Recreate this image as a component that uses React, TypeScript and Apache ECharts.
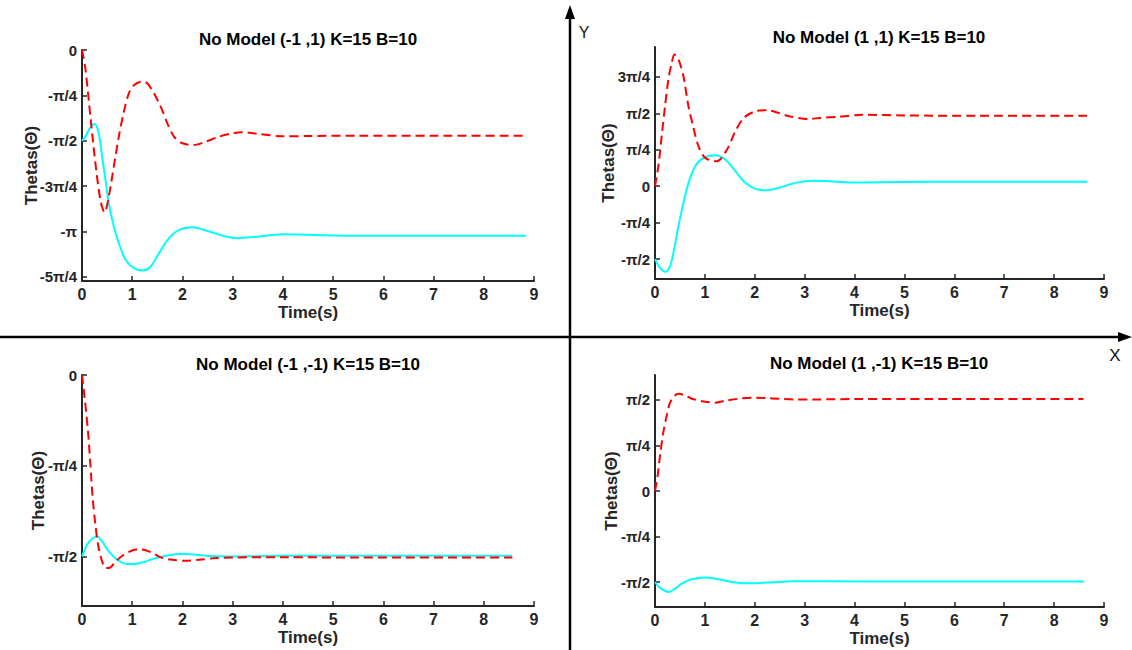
import React, { useEffect, useRef } from "react";
import * as echarts from "echarts";

// ---------- data ----------
const xTickValues = [0, 1, 2, 3, 4, 5, 6, 7, 8, 9];

const titles = [
  "No Model (-1 ,1) K=15 B=10",
  "No Model (1 ,1) K=15 B=10",
  "No Model (-1 ,-1) K=15 B=10",
  "No Model (1 ,-1) K=15 B=10",
];

// y tick positions as multiples of pi/4, and their labels
const tlYQuarters = [-5, -4, -3, -2, -1, 0];
const tlYLabels = ["-5π/4", "-π", "-3π/4", "-π/2", "-π/4", "0"];
const trYQuarters = [-2, -1, 0, 1, 2, 3];
const trYLabels = ["-π/2", "-π/4", "0", "π/4", "π/2", "3π/4"];
const blYQuarters = [-2, -1, 0];
const blYLabels = ["-π/2", "-π/4", "0"];
const brYQuarters = [-2, -1, 0, 1, 2];
const brYLabels = ["-π/2", "-π/4", "0", "π/4", "π/2"];

// [time (s), theta (rad)]
const tlRed: [number, number][] = [
  [0, 0], [0.067, -0.32], [0.167, -1.15], [0.267, -1.96], [0.367, -2.6], [0.45, -2.81],
  [0.533, -2.54], [0.633, -2.02], [0.733, -1.5], [0.833, -1.07], [0.933, -0.75], [1.033, -0.61],
  [1.2, -0.548], [1.3, -0.577], [1.433, -0.75], [1.567, -0.98], [1.7, -1.27], [1.833, -1.5],
  [2.0, -1.615], [2.233, -1.644], [2.467, -1.586], [2.733, -1.5], [3.0, -1.442], [3.2, -1.425],
  [3.5, -1.45], [4.0, -1.494], [4.5, -1.49], [5.5, -1.483], [7.0, -1.483], [8.84, -1.483],
];
const tlCyan: [number, number][] = [
  [0, -1.571], [0.067, -1.5], [0.167, -1.338], [0.253, -1.28], [0.333, -1.442], [0.4, -1.845],
  [0.467, -2.249], [0.533, -2.653], [0.633, -3.057], [0.733, -3.345], [0.867, -3.633], [1.033, -3.777],
  [1.22, -3.818], [1.367, -3.749], [1.533, -3.518], [1.733, -3.258], [1.933, -3.114], [2.2, -3.068],
  [2.533, -3.143], [2.867, -3.23], [3.1, -3.258], [3.4, -3.24], [4.0, -3.19], [4.5, -3.2],
  [5.5, -3.218], [7.0, -3.218], [8.84, -3.218],
];
const trRed: [number, number][] = [
  [0, 0], [0.067, 0.43], [0.134, 1.08], [0.201, 1.72], [0.268, 2.3], [0.336, 2.66], [0.389, 2.836],
  [0.47, 2.73], [0.57, 2.37], [0.671, 1.72], [0.772, 1.256], [0.872, 0.86], [1.007, 0.61],
  [1.242, 0.538], [1.443, 0.79], [1.611, 1.185], [1.779, 1.472], [2.013, 1.615], [2.248, 1.637],
  [2.483, 1.579], [2.685, 1.508], [3.087, 1.45], [3.3, 1.47], [3.7, 1.5], [4.16, 1.538],
  [5.0, 1.525], [6.5, 1.517], [8.66, 1.517],
];
const trCyan: [number, number][] = [
  [0, -1.571], [0.101, -1.759], [0.215, -1.845], [0.302, -1.723], [0.369, -1.436], [0.47, -0.861],
  [0.57, -0.359], [0.671, 0.072], [0.805, 0.431], [0.973, 0.61], [1.208, 0.668], [1.409, 0.574],
  [1.611, 0.323], [1.812, 0.072], [2.013, -0.057], [2.248, -0.086], [2.483, -0.036], [2.819, 0.072],
  [3.154, 0.115], [3.5, 0.105], [3.94, 0.079], [4.5, 0.085], [5.5, 0.094], [8.66, 0.094],
];
const blRed: [number, number][] = [
  [0, 0], [0.053, -0.2], [0.12, -0.49], [0.167, -0.778], [0.213, -1.066], [0.267, -1.297],
  [0.32, -1.47], [0.4, -1.614], [0.48, -1.672], [0.567, -1.666], [0.667, -1.614], [0.833, -1.556],
  [1.0, -1.519], [1.167, -1.51], [1.367, -1.533], [1.567, -1.579], [1.8, -1.6], [2.067, -1.608],
  [2.333, -1.6], [2.667, -1.585], [3.0, -1.58], [4.0, -1.578], [5.5, -1.58], [8.57, -1.58],
];
const blCyan: [number, number][] = [
  [0, -1.571], [0.1, -1.47], [0.2, -1.418], [0.3, -1.398], [0.4, -1.441], [0.533, -1.527],
  [0.7, -1.6], [0.867, -1.634], [1.033, -1.637], [1.2, -1.623], [1.4, -1.594], [1.6, -1.571],
  [1.8, -1.556], [2.0, -1.548], [2.267, -1.556], [2.533, -1.568], [2.867, -1.572], [3.3, -1.57],
  [4.0, -1.566], [5.5, -1.566], [8.56, -1.566],
];
const brRed: [number, number][] = [
  [0, 0], [0.054, 0.27], [0.101, 0.615], [0.168, 1.017], [0.235, 1.304], [0.302, 1.522],
  [0.389, 1.637], [0.47, 1.677], [0.604, 1.648], [0.738, 1.591], [0.973, 1.545], [1.208, 1.522],
  [1.409, 1.556], [1.678, 1.591], [1.946, 1.608], [2.215, 1.602], [2.483, 1.591], [2.819, 1.579],
  [3.154, 1.579], [4.0, 1.585], [5.5, 1.588], [8.59, 1.588],
];
const brCyan: [number, number][] = [
  [0, -1.568], [0.1, -1.671], [0.282, -1.74], [0.403, -1.683], [0.537, -1.597], [0.738, -1.522],
  [1.007, -1.493], [1.275, -1.522], [1.544, -1.568], [1.812, -1.591], [2.081, -1.585], [2.483, -1.568],
  [2.819, -1.556], [3.154, -1.556], [4.0, -1.56], [5.5, -1.56], [8.6, -1.56],
];

// ---------- layout / style ----------
const FONT = "'Liberation Sans', Arial, Helvetica, sans-serif";
const AXIS = "#262626";
const PI4 = Math.PI / 4;

const panels = [
  { grid: { left: 82, top: 50, width: 452, height: 231 }, yMin: -4, yMax: 0, q: tlYQuarters, l: tlYLabels, red: tlRed, cyan: tlCyan, yGap: 42, title: [308, 39] },
  { grid: { left: 655, top: 47, width: 449, height: 232 }, yMin: -2, yMax: 3, q: trYQuarters, l: trYLabels, red: trRed, cyan: trCyan, yGap: 38, title: [879, 37] },
  { grid: { left: 82, top: 375, width: 452, height: 231 }, yMin: -2, yMax: 0, q: blYQuarters, l: blYLabels, red: blRed, cyan: blCyan, yGap: 35, title: [308, 364] },
  { grid: { left: 655, top: 375, width: 449, height: 232 }, yMin: -2, yMax: 2, q: brYQuarters, l: brYLabels, red: brRed, cyan: brCyan, yGap: 35, title: [879, 363] },
];

function buildOption() {
  const grid = panels.map((p) => ({ ...p.grid, containLabel: false }));
  const xAxis = panels.map((p, i) => ({
    type: "value",
    gridIndex: i,
    min: 0,
    max: 9,
    interval: 1,
    name: "Time(s)",
    nameLocation: "middle",
    nameGap: 23,
    nameMoveOverlap: false,
    nameTextStyle: { fontFamily: FONT, fontSize: 17, fontWeight: "bold", color: AXIS },
    axisLine: { show: true, onZero: false, lineStyle: { color: AXIS, width: 2 } },
    axisTick: { show: true, inside: true, length: 5, customValues: xTickValues, lineStyle: { color: AXIS, width: 1.5 } },
    axisLabel: { margin: 5, customValues: xTickValues, fontFamily: FONT, fontSize: 16, fontWeight: "bold", color: AXIS },
    splitLine: { show: false },
  }));
  const yAxis = panels.map((p, i) => {
    const vals = p.q.map((k) => k * PI4);
    return {
      type: "value",
      gridIndex: i,
      min: p.yMin,
      max: p.yMax,
      name: "Thetas(Θ)",
      nameLocation: "middle",
      nameGap: p.yGap,
      nameMoveOverlap: false,
      nameTextStyle: { fontFamily: FONT, fontSize: 17, fontWeight: "bold", color: AXIS },
      axisLine: { show: true, onZero: false, lineStyle: { color: AXIS, width: 2 } },
      axisTick: { show: true, inside: true, length: 5, customValues: vals, lineStyle: { color: AXIS, width: 1.5 } },
      axisLabel: {
        margin: 5,
        customValues: vals,
        fontFamily: FONT,
        fontSize: 15,
        fontWeight: "bold",
        color: AXIS,
        formatter: (v: number) => {
          const idx = vals.findIndex((x) => Math.abs(x - v) < 1e-6);
          return idx >= 0 ? p.l[idx] : "";
        },
      },
      splitLine: { show: false },
    };
  });
  const series: any[] = [];
  panels.forEach((p, i) => {
    series.push({
      type: "line",
      xAxisIndex: i,
      yAxisIndex: i,
      data: p.cyan,
      smooth: 0.3,
      showSymbol: false,
      symbol: "none",
      lineStyle: { color: "#00ffff", width: 2 },
    });
    series.push({
      type: "line",
      xAxisIndex: i,
      yAxisIndex: i,
      data: p.red,
      smooth: 0.3,
      showSymbol: false,
      symbol: "none",
      lineStyle: { color: "#ff0000", width: 2, type: [9, 5] },
    });
  });
  const graphic: any[] = [
    ...panels.map((p, i) => ({
      type: "text",
      x: p.title[0],
      y: p.title[1],
      style: { text: titles[i], align: "center", verticalAlign: "middle", font: `bold 17px ${FONT}`, fill: "#000" },
    })),
    { type: "line", shape: { x1: 570, y1: 14, x2: 570, y2: 650 }, style: { stroke: "#000", lineWidth: 2.5 } },
    { type: "polygon", shape: { points: [[570, 5], [565, 19], [575, 19]] }, style: { fill: "#000" } },
    { type: "line", shape: { x1: 0, y1: 337, x2: 1124, y2: 337 }, style: { stroke: "#000", lineWidth: 2.5 } },
    { type: "polygon", shape: { points: [[1132, 337], [1118, 332], [1118, 342]] }, style: { fill: "#000" } },
    { type: "text", x: 584, y: 32, style: { text: "Y", align: "center", verticalAlign: "middle", font: `16px ${FONT}`, fill: "#111" } },
    { type: "text", x: 1115, y: 355, style: { text: "X", align: "center", verticalAlign: "middle", font: `17px ${FONT}`, fill: "#111" } },
  ];
  return {
    animation: false,
    backgroundColor: "#ffffff",
    textStyle: { fontFamily: FONT },
    grid,
    xAxis,
    yAxis,
    series,
    graphic,
  };
}

export default function App() {
  const ref = useRef<HTMLDivElement>(null);
  useEffect(() => {
    if (!ref.current) return;
    const chart = echarts.init(ref.current, null, { renderer: "svg" });
    chart.setOption(buildOption() as any);
    return () => chart.dispose();
  }, []);
  return (
    <div
      ref={ref}
      style={{ position: "fixed", left: 0, top: 0, width: 1132, height: 650, background: "#fff" }}
    />
  );
}
